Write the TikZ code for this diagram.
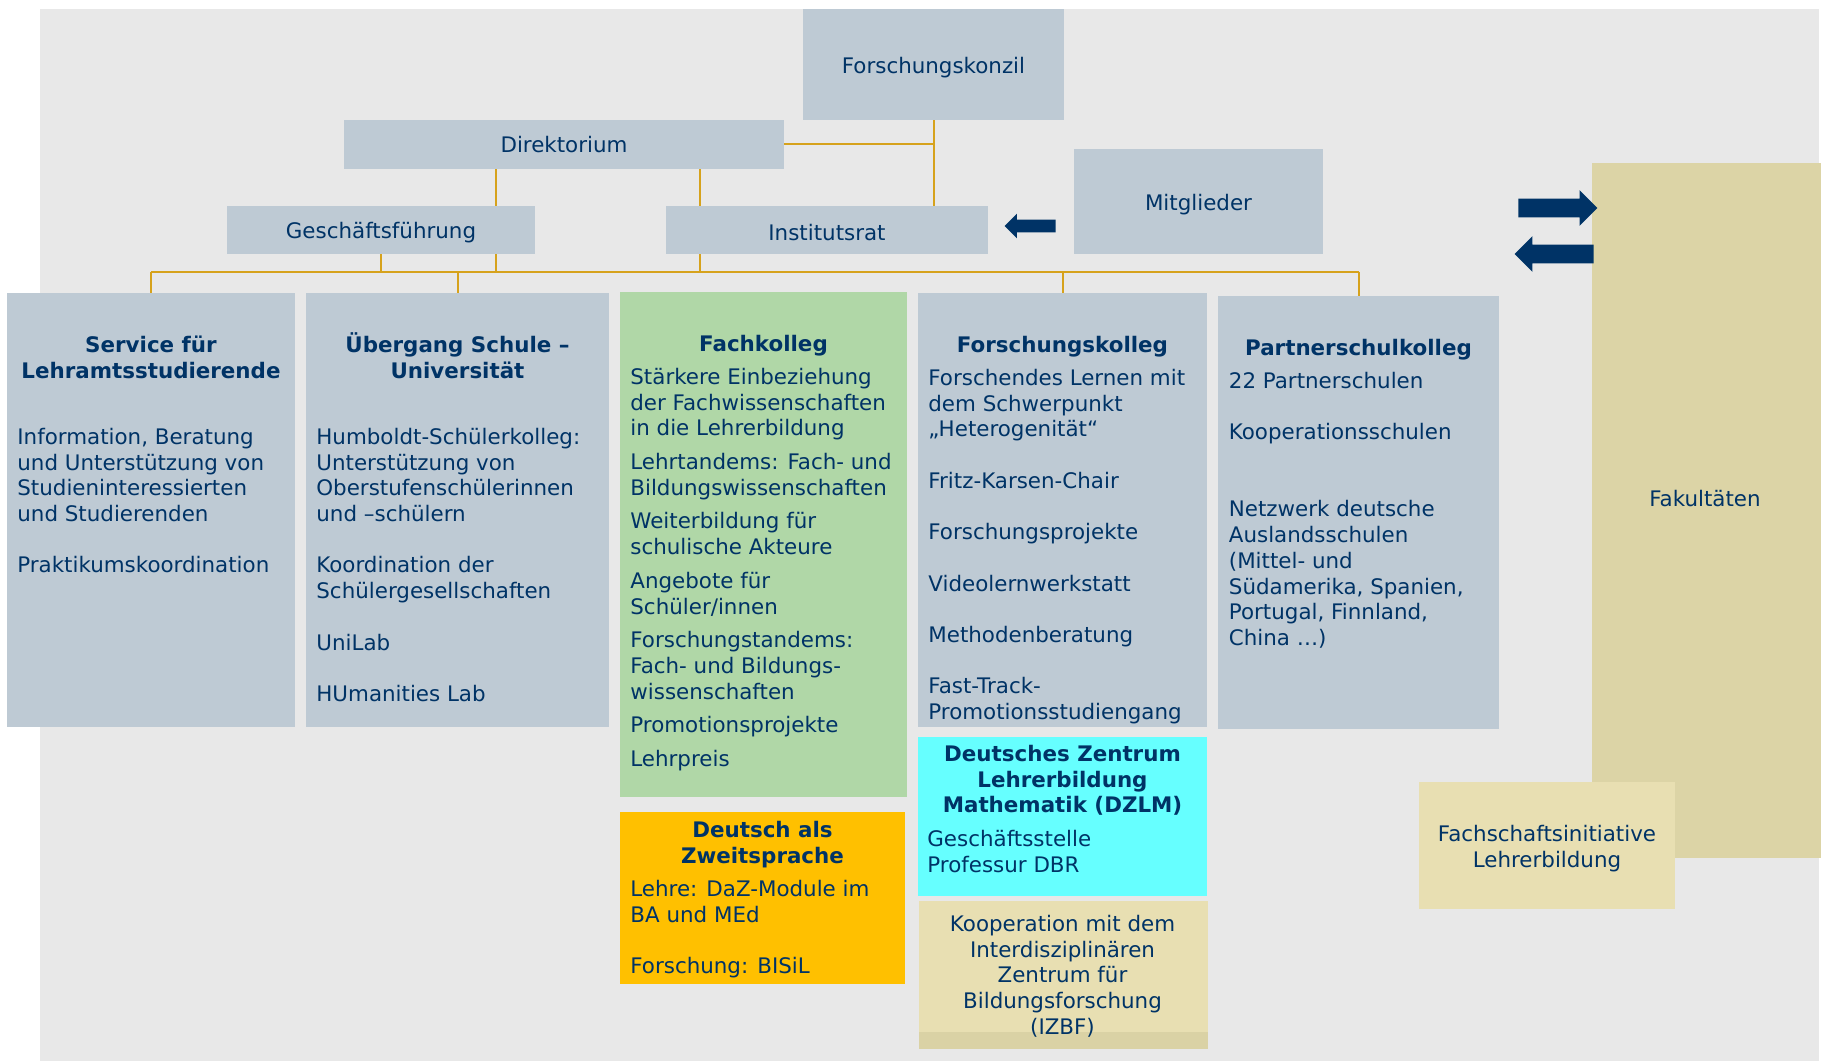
\documentclass[tikz,border=0pt]{standalone}
\usepackage{fontspec}
\setmainfont{DejaVu Sans}
\usepackage{tikz}
\usetikzlibrary{fit,shapes.arrows}

\definecolor{bggray}{RGB}{232,232,232}
\definecolor{boxblue}{RGB}{190,202,212}
\definecolor{kolleggreen}{RGB}{176,215,167}
\definecolor{dazorange}{RGB}{255,192,0}
\definecolor{dzlmcyan}{RGB}{102,255,255}
\definecolor{faktan}{RGB}{220,212,166}
\definecolor{fsitan}{RGB}{232,223,178}
\definecolor{stripetan}{RGB}{218,210,165}
\definecolor{linegold}{RGB}{214,162,28}
\definecolor{darknavy}{RGB}{0,51,102}

\newcommand{\diafont}{\fontsize{10.7}{12.85}\selectfont}
\newcommand{\fl}{\rule{0pt}{10pt}}

\begin{document}
\begin{tikzpicture}[x=0.5pt,y=-0.5pt,font=\diafont,text=darknavy]
 	\tikzstyle{box}=[rectangle, inner sep=0pt, fill=boxblue]
 	\tikzstyle{txt}=[inner sep=0pt, anchor=north west, align=left]
 	\tikzstyle{head}=[inner sep=0pt, anchor=north, align=center, font=\diafont\bfseries]
 	\tikzstyle{connect}=[draw=linegold, line width=1pt]
 	\tikzstyle{blockarrow}=[single arrow, fill=darknavy, inner xsep=0pt, anchor=tip]
 	\useasboundingbox (0,0) rectangle (1821,1064);
 	\fill[bggray] (40,9) rectangle (1819,1061);
 	% leitung
 	\node[box, fit={(803,9) (1064,120)}, label={[yshift=-1.5pt]center:Forschungskonzil}] (konzil) {};
 	\node[box, fit={(344,120) (784,169)}, label=center:Direktorium] (direk) {};
 	\node[box, fit={(227,206) (535,254)}, label={[yshift=-1.5pt]center:Geschäftsführung}] (gf) {};
 	\node[box, fit={(666,206) (988,254)}, label={[yshift=-1.2pt]center:Institutsrat}] (rat) {};
 	\node[box, fit={(1074,149) (1323,254)}, label={[yshift=-1.5pt]center:Mitglieder}] (mitglieder) {};
 	% bereiche
 	\node[box, fit={(7,293) (295,727)}] (service) {};
 	\node[box, fit={(306,293) (609,727)}] (uebergang) {};
 	\node[box, fill=kolleggreen, fit={(620,292) (907,797)}] (fachkolleg) {};
 	\node[box, fit={(918,293) (1207,727)}] (forschung) {};
 	\node[box, fit={(1218,296) (1499,729)}] (partner) {};
 	\node[box, fill=dzlmcyan, fit={(918,737) (1207,896)}] (dzlm) {};
 	\node[box, fill=dazorange, fit={(620,812) (905,984)}] (daz) {};
 	\node[box, fill=fsitan, fit={(919,901) (1208,1049)}] (koop) {};
 	\fill[stripetan] (koop.south west) rectangle ([yshift=8.5pt]koop.south east);
 	\node[box, fill=faktan, fit={(1592,163) (1821,858)}] (fakultaeten) {};
 	\node[box, fill=fsitan, fit={(1419,782) (1675,909)}, label={[align=center, yshift=-1.5pt]center:Fachschaftsinitiative\\Lehrerbildung}] (fsi) {};
 	% linien
 	\coordinate (busy) at (0,272);
 	\coordinate (xgf) at (496,0);
 	\coordinate (xrat) at (700,0);
 	\path (konzil.south) edge [connect] (konzil.south |- rat.north)
 	(direk.east) edge [connect] (direk.east -| konzil.south)
 	(direk.south -| xgf) edge [connect] (gf.north -| xgf)
 	(direk.south -| xrat) edge [connect] (rat.north -| xrat)
 	(gf.south -| xgf) edge [connect] (busy -| xgf)
 	(gf.south) edge [connect] (gf.south |- busy)
 	(rat.south -| xrat) edge [connect] (busy -| xrat)
 	(busy -| service.north) edge [connect] (busy -| partner.north)
 	(busy -| service.north) edge [connect] (service.north)
 	(busy -| uebergang.north) edge [connect] (uebergang.north)
 	(busy -| forschung.north) edge [connect] (forschung.north)
 	(busy -| partner.north) edge [connect] (partner.north);
 	% pfeile
 	\node[blockarrow, inner ysep=3pt, minimum height=25.5pt, minimum width=12pt, single arrow head extend=3pt, shape border rotate=180] (pfeilrat) at (1004,226) {};
 	\node[blockarrow, inner ysep=4.5pt, minimum height=39.5pt, minimum width=17.5pt, single arrow head extend=4.25pt] (pfeilfak) at (1598,208) {};
 	\node[blockarrow, inner ysep=4.5pt, minimum height=39.5pt, minimum width=17.5pt, single arrow head extend=4.25pt, shape border rotate=180] (pfeilzse) at (1514,254) {};
 	% texte
 	\node[head] (servicehead) at (151,332) {\fl Service für\\Lehramtsstudierende};
 	\node[txt] (servicetext) at (17,424) {\fl Information, Beratung\\und Unterstützung von\\Studieninteressierten\\und Studierenden\\[12.85pt]Praktikumskoordination};
 	\node[head] (ueberganghead) at (457.5,332) {\fl Übergang Schule –\\Universität};
 	\node[txt] (uebergangtext) at (316,424) {\fl Humboldt-Schülerkolleg:\\Unterstützung von\\Oberstufenschülerinnen\\und –schülern\\[12.85pt]Koordination der\\Schülergesellschaften\\[12.85pt]UniLab\\[12.85pt]HUmanities Lab};
 	\node[head] (fachkolleghead) at (763.5,331) {\fl Fachkolleg};
 	\node[txt] (fachkollegtext) at (630,364) {\fl Stärkere Einbeziehung\\der Fachwissenschaften\\in die Lehrerbildung\\[4pt]Lehrtandems: Fach- und\\Bildungswissenschaften\\[4pt]Weiterbildung für\\schulische Akteure\\[4pt]Angebote für\\Schüler/innen\\[4pt]Forschungstandems:\\Fach- und Bildungs-\\wissenschaften\\[4pt]Promotionsprojekte\\[4pt]Lehrpreis};
 	\node[head] (forschunghead) at (1062.5,332) {\fl Forschungskolleg};
 	\node[txt] (forschungtext) at (928,365) {\fl Forschendes Lernen mit\\dem Schwerpunkt\\„Heterogenität“\\[12.85pt]Fritz-Karsen-Chair\\[12.85pt]Forschungsprojekte\\[12.85pt]Videolernwerkstatt\\[12.85pt]Methodenberatung\\[12.85pt]Fast-Track-\\Promotionsstudiengang};
 	\node[head] (partnerhead) at (1358.5,335) {\fl Partnerschulkolleg};
 	\node[txt] (partnertext) at (1228.5,368) {\fl 22 Partnerschulen\\[12.85pt]Kooperationsschulen\\[25.7pt]Netzwerk deutsche\\Auslandsschulen\\(Mittel- und\\Südamerika, Spanien,\\Portugal, Finnland,\\China …)};
 	\node[head] (dzlmhead) at (1062.5,741) {\fl Deutsches Zentrum\\Lehrerbildung\\Mathematik (DZLM)};
 	\node[txt] (dzlmtext) at (927,826) {\fl Geschäftsstelle\\Professur DBR};
 	\node[head] (dazhead) at (762.5,817) {\fl Deutsch als\\Zweitsprache};
 	\node[txt] (daztext) at (630,876) {\fl Lehre: DaZ-Module im\\BA und MEd\\[12.85pt]Forschung: BISiL};
 	\node[inner sep=0pt, anchor=north, align=center] (kooptext) at (1062.5,911) {\fl Kooperation mit dem\\Interdisziplinären\\Zentrum für\\Bildungsforschung\\(IZBF)};
 	\node[inner sep=0pt] (fakultaetentext) at (1705,499) {Fakultäten};
\end{tikzpicture}
\end{document}
